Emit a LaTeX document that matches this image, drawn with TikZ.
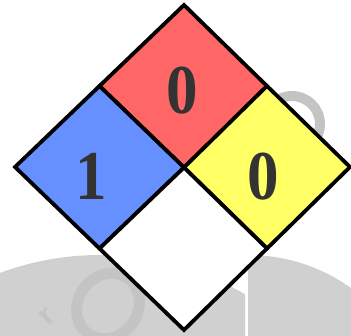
\documentclass[tikz,border=0pt]{standalone}
\usepackage{fontspec}
\setmainfont{Liberation Serif}
\definecolor{nfred}{HTML}{FF6666}
\definecolor{nfblue}{HTML}{6690FF}
\definecolor{nfyellow}{HTML}{FFFF66}
\definecolor{wmlight}{HTML}{D0D0D0}
\definecolor{wmdark}{HTML}{C4C4C4}
\definecolor{digit}{HTML}{333333}
\begin{document}
\begin{tikzpicture}[x=1pt,y=-1pt,
  cell/.style={draw=black,line width=3.8pt,line join=miter},
  num/.style={font=\fontsize{70}{70}\selectfont\bfseries,text=digit,inner sep=0pt,xscale=0.9}]
\useasboundingbox (0,0) rectangle (351,335);
% watermark
\begin{scope}
  \clip (0,0) rectangle (245,335);
  \fill[wmlight] (100,542) circle (287);
\end{scope}
\begin{scope}
  \clip (248,0) rectangle (351,335);
  \fill[wmlight] (248,432) circle (177);
\end{scope}
\draw[wmdark,line width=11pt] (108,306) ellipse [x radius=30, y radius=34, rotate=-35];
\node[wmdark,font=\sffamily\fontsize{34}{34}\selectfont\bfseries,rotate=45] at (47,316) {r};
\draw[wmdark,line width=10pt] (292,124) circle (28);
% diamond
\coordinate (T) at (184,5);
\coordinate (L) at (15,167);
\coordinate (R) at (350,167);
\coordinate (B) at (184,330);
\coordinate (C) at (184,167.5);
\coordinate (TL) at (99.5,86);
\coordinate (TR) at (267,86);
\coordinate (BL) at (99.5,248.5);
\coordinate (BR) at (267,248.5);
\filldraw[cell,fill=nfred] (T) -- (TR) -- (C) -- (TL) -- cycle;
\filldraw[cell,fill=nfblue] (TL) -- (C) -- (BL) -- (L) -- cycle;
\filldraw[cell,fill=nfyellow] (TR) -- (R) -- (BR) -- (C) -- cycle;
\filldraw[cell,fill=white] (C) -- (BR) -- (B) -- (BL) -- cycle;
\node[num] (health) at (91,176.5) {1};
\node[num] (fire) at (182,90.5) {0};
\node[num] (react) at (263,177) {0};
\end{tikzpicture}
\end{document}
